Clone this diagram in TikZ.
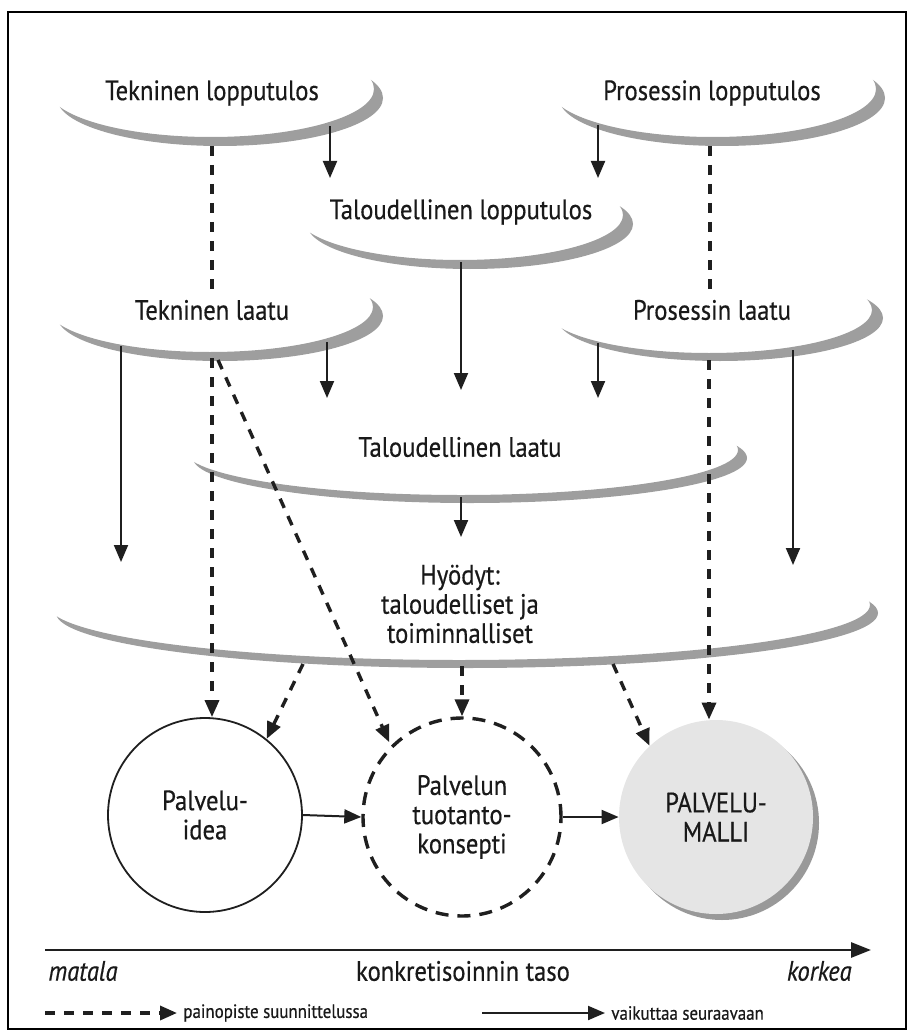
\documentclass[tikz,border=0pt]{standalone}
\usepackage{fontspec}
\setmainfont{PT Sans}[FakeStretch=0.88, FakeBold=0.5]
\usetikzlibrary{arrows.meta,calc}

\colorlet{ink}{black!88}
\colorlet{bandgray}{black!38}

% a shaded rim: the lower crescent of an ellipse (cx,cy,rx,ry), thickness t, right-end lean a
\newcommand\rimplate[6]{%
  \begin{scope}
    \clip (#1,#2) ellipse [x radius={#3*0.5pt}, y radius={#4*0.5pt}];
    \fill[bandgray, even odd rule]
      (#1-#3-5,#2-#4-5) rectangle (#1+#3+5,#2+#4+5)
      (#1-#6,#2-#5) ellipse [x radius={#3*0.5pt}, y radius={#4*0.5pt}];
  \end{scope}}

\tikzset{
  lbl/.style={font=\fontsize{14}{14.6}\selectfont, text=black!90, inner sep=0pt, align=center},
  small/.style={font=\fontsize{9.6}{10}\selectfont, text=black!90, inner sep=0pt},
  tip/.style={-{Triangle[length=8.5pt,width=7pt]}},
  solidarrow/.style={draw=ink, line width=1pt, tip},
  dashline/.style={draw=ink, line width=1.7pt, dash pattern=on 5pt off 4.5pt},
  dasharrow/.style={dashline, tip},
  axisarrow/.style={draw=ink, line width=1.4pt, -{Triangle[length=10pt,width=7.5pt]}},
}

\begin{document}
\begin{tikzpicture}[x=0.5pt,y=-0.5pt]
\useasboundingbox (0,0) rectangle (910,1032);
\draw[line width=0.85pt] (8,12) rectangle (906,1029);

% rims
\rimplate{220}{98}{163}{48}{9}{9}
\rimplate{722}{98}{163}{48}{9}{9}
\rimplate{470}{224}{163}{45}{9}{10}
\rimplate{220}{316}{163}{45}{9}{10}
\rimplate{720}{318}{163}{43}{8}{11}
\rimplate{470}{458}{277}{45}{8}{9}
\rimplate{467}{613}{411}{55}{8}{8}

% labels on the rims
\node[lbl] (t1) at (212,93) {Tekninen lopputulos};
\node[lbl] (t2) at (712,93) {Prosessin lopputulos};
\node[lbl] (t3) at (461,212) {Taloudellinen lopputulos};
\node[lbl] (t4) at (212,310) {Tekninen laatu};
\node[lbl] (t5) at (712,310) {Prosessin laatu};
\node[lbl] (t6) at (460,447) {Taloudellinen laatu};
\node[lbl] (t7) at (460,604) {Hyödyt:\\taloudelliset ja\\toiminnalliset};

% the three circles
\node[lbl, circle, draw=ink, line width=0.9pt, minimum size=97pt] (idea) at (205,815) {Palvelu-\\idea};
\node[lbl, circle, draw=ink, line width=1.7pt, dash pattern=on 6.5pt off 4.5pt, minimum size=99pt] (konsepti) at (462,817) {Palvelun\\tuotanto-\\konsepti};
\fill[black!40] (722,823) circle [radius=48.5pt];
\node[lbl, circle, fill=black!10, minimum size=97pt] (malli) at (716,817) {PALVELU-\\MALLI};

% start points on the rims
\coordinate (r1a) at (330,126);
\coordinate (r1d) at (212,146);
\coordinate (r2a) at (598,125);
\coordinate (r2d) at (710,146);
\coordinate (r3a) at (461,262);
\coordinate (r4a) at (121,346);
\coordinate (r4b) at (327,342);
\coordinate (r4d) at (212,358);
\coordinate (r4e) at (218,360);
\coordinate (r5a) at (598,343);
\coordinate (r5b) at (793,350);
\coordinate (r5d) at (709,360);
\coordinate (r6a) at (461,497);
\coordinate (r7a) at (303,664);
\coordinate (r7b) at (462,666);
\coordinate (r7c) at (613,664);

% solid influences
\draw[solidarrow] (r1a) -- (330,178);
\draw[solidarrow] (r2a) -- (598,178);
\draw[solidarrow] (r3a) -- (461,390);
\draw[solidarrow] (r4a) -- (121,562);
\draw[solidarrow] (r4b) -- (327,398);
\draw[solidarrow] (r5a) -- (598,398);
\draw[solidarrow] (r5b) -- (793,565);
\draw[solidarrow] (r6a) -- (461,537);
\draw[solidarrow] (idea.east) -- (konsepti.west);
\draw[solidarrow] (konsepti.east) -- (malli.west);

% design emphasis
\draw[dashline] (r1d) -- ([yshift=3pt]r1d |- t4.north);
\draw[dashline] (r2d) -- ([yshift=3pt]r2d |- t5.north);
\draw[dasharrow] (r4d) -- (r4d |- idea.north);
\draw[dasharrow, shorten >=2pt] (r4e) -- (konsepti.135);
\draw[dasharrow] (r5d) -- (r5d |- malli.north);
\draw[dasharrow] (r7a) -- (idea.51);
\draw[dasharrow] (r7b) -- (konsepti.north);
\draw[dasharrow] (r7c) -- (malli.133);

% concreteness axis
\coordinate (ax0) at (45,950);
\coordinate (ax1) at (871,950);
\draw[axisarrow] (ax0) -- (ax1);
\node[lbl, anchor=west] (lo) at (48,971) {\itshape matala};
\node[lbl] (mid) at (463,971) {konkretisoinnin taso};
\node[lbl, anchor=east] (hi) at (852,971) {\itshape korkea};

% legend
\coordinate (l1a) at (45,1013);
\coordinate (l1b) at (177,1013);
\coordinate (l2a) at (482,1013);
\coordinate (l2b) at (605,1013);
\draw[dasharrow] (l1a) -- (l1b);
\node[small, anchor=west] (lt1) at (183,1013) {painopiste suunnittelussa};
\draw[solidarrow] (l2a) -- (l2b);
\node[small, anchor=west] (lt2) at (611,1013) {vaikuttaa seuraavaan};
\end{tikzpicture}
\end{document}
